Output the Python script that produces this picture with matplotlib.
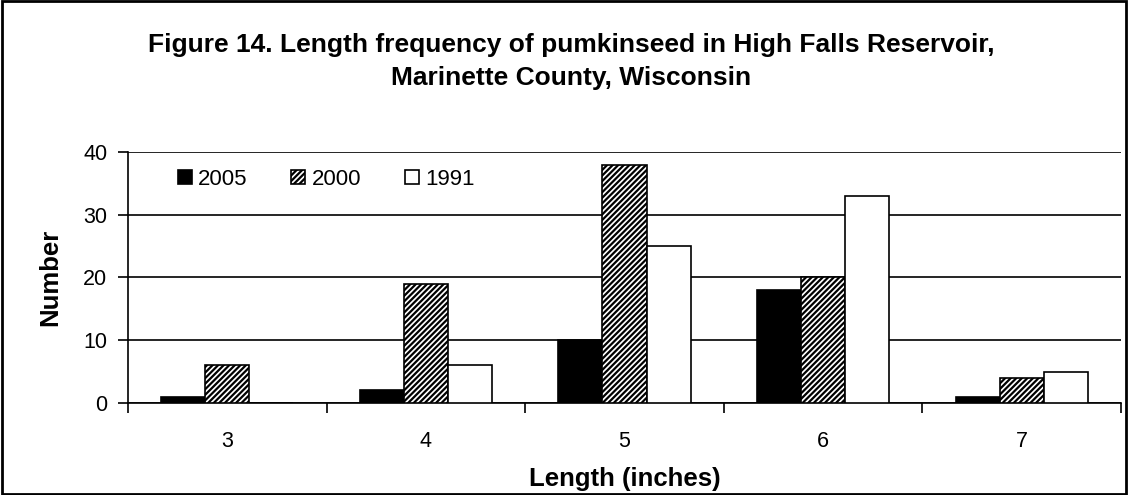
import numpy as np
import matplotlib.pyplot as plt
from matplotlib.patches import Rectangle

plt.rcParams['font.family'] = ['Liberation Sans', 'DejaVu Sans']
plt.rcParams['hatch.linewidth'] = 1.6

# data
lengths = ['3', '4', '5', '6', '7']
years = ['2005', '2000', '1991']
n_2005 = [1, 2, 10, 18, 1]
n_2000 = [6, 19, 38, 20, 4]
n_1991 = [0, 6, 25, 33, 5]

fig = plt.figure(figsize=(11.28, 4.95), dpi=100)
ax = fig.add_axes([0.1135, 0.1859, 0.8803, 0.507])

x = np.arange(len(lengths))
w = 0.222
ax.bar(x - w, n_2005, w, color='black', edgecolor='black', linewidth=1.2, label=years[0], zorder=3)
ax.bar(x, n_2000, w, color='white', edgecolor='black', hatch='//////', linewidth=1.2, label=years[1], zorder=3)
ax.bar(x + w, n_1991, w, color='white', edgecolor='black', linewidth=1.2, label=years[2], zorder=3)

ax.set_xlim(-0.5, len(lengths) - 0.5)
ax.set_ylim(0, 40)
ax.set_yticks([0, 10, 20, 30, 40])
ax.yaxis.grid(True, color='black', linewidth=1.2)
ax.set_axisbelow(True)

ax.set_xticks(x)
ax.set_xticklabels(lengths)
ax.set_xticks(np.arange(-0.5, len(lengths)), minor=True)
ax.tick_params(axis='x', which='major', length=0, pad=20, labelsize=15.5)
ax.tick_params(axis='x', which='minor', length=7, width=1.2, direction='out')
ax.tick_params(axis='y', length=7, width=1.2, direction='out', labelsize=15.5, pad=8)

for s in ['top', 'right']:
    ax.spines[s].set_visible(False)
ax.spines['left'].set_linewidth(1.2)
ax.spines['bottom'].set_linewidth(1.2)

ax.set_xlabel('Length (inches)', fontsize=18.5, fontweight='bold', labelpad=11)
ax.set_ylabel('Number', fontsize=18.5, fontweight='bold', labelpad=15)

ax.legend(loc='center left', ncol=3, frameon=False, fontsize=16, handlelength=0.63,
          handleheight=0.63, handletextpad=0.3, columnspacing=1.95,
          borderpad=0, borderaxespad=0, bbox_to_anchor=(0.05, 0.892))

fig.text(0.506, 0.876, 'Figure 14. Length frequency of pumkinseed in High Falls Reservoir,\nMarinette County, Wisconsin',
         ha='center', va='center', fontsize=19, fontweight='bold', linespacing=1.5)

fig.patches.append(Rectangle((0.002, 0.003), 0.996, 0.994, transform=fig.transFigure,
                             fill=False, edgecolor='black', linewidth=2))

fig.savefig('out.png', dpi=100)
